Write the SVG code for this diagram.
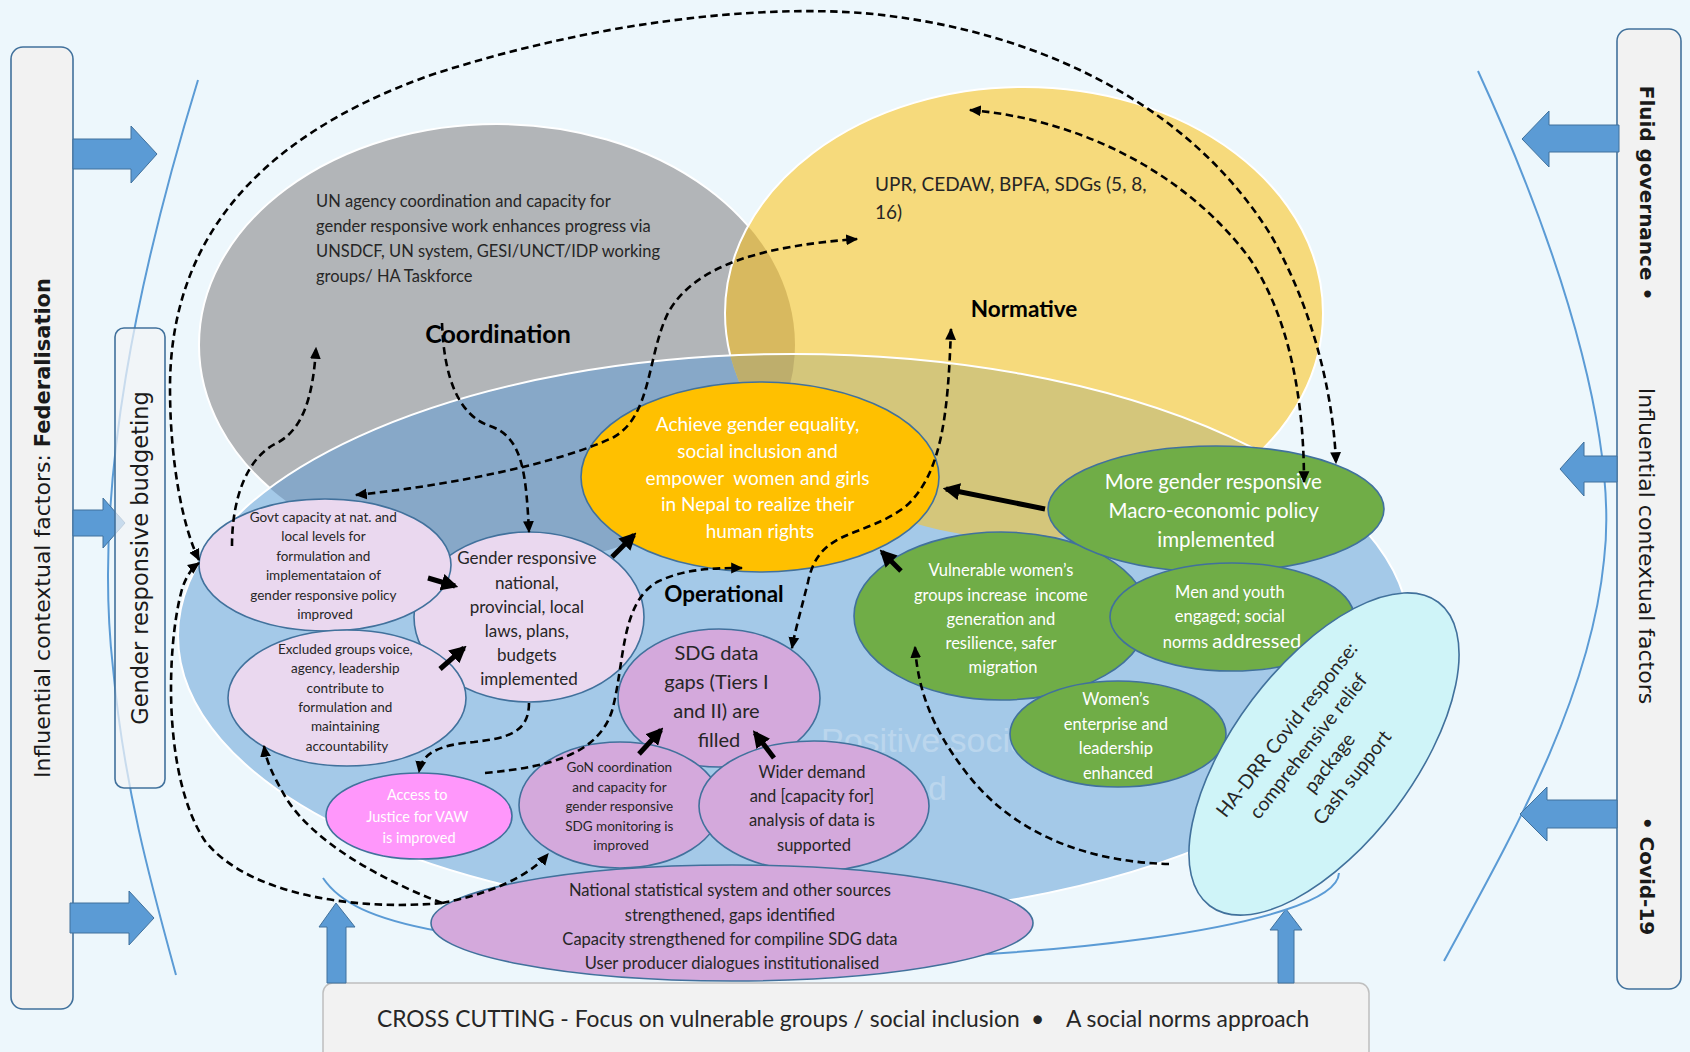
<svg xmlns="http://www.w3.org/2000/svg" width="1690" height="1052" viewBox="0 0 1690 1052">
  <style>
    .lato { font-family: Lato, "Liberation Sans", sans-serif; }
    .dv { font-family: "DejaVu Sans", "Liberation Sans", sans-serif; fill: #1a1a1a; }
    .dark { fill: #262626; }
    .wh { fill: #ffffff; }
    .node { stroke: #41719C; stroke-width: 1.6; }
    .green { fill: #70AD47; }
    .lav { fill: #EAD8EF; }
    .purp { fill: #D4A9DC; }
    .dash { fill: none; stroke: #000; stroke-width: 2.6; stroke-dasharray: 7.5 4.5; }
    .solid { fill: none; stroke: #000; stroke-width: 5; }
    .thin { fill: none; stroke: #5B9BD5; stroke-width: 2; }
    .barrow { fill: #5B9BD5; stroke: #41719C; stroke-width: 1; }
    .panel { fill: #F2F2F2; stroke: #41719C; stroke-width: 1.6; }
  </style>
  <defs>
    <clipPath id="cGray"><ellipse cx="497" cy="345" rx="298" ry="221"/></clipPath>
    <clipPath id="cYel"><ellipse cx="1024" cy="313" rx="299" ry="226"/></clipPath>
    <clipPath id="cBlue"><ellipse cx="794" cy="636" rx="616" ry="282"/></clipPath>
    <marker id="ah" viewBox="0 0 10 10" refX="9" refY="5" markerWidth="12" markerHeight="12" markerUnits="userSpaceOnUse" orient="auto-start-reverse">
      <path d="M0,0.5 L10,5 L0,9.5 z" fill="#000"/>
    </marker>
    <marker id="ab" viewBox="0 0 10 10" refX="8" refY="5" markerWidth="17" markerHeight="17" markerUnits="userSpaceOnUse" orient="auto">
      <path d="M0,0 L10,5 L0,10 z" fill="#000"/>
    </marker>
  </defs>

  <!-- background -->
  <rect width="1690" height="1052" fill="#EDF7FC"/>

  <!-- side brackets -->
  <path class="thin" d="M198,80 C140,269 92,485 113,668 C124,787 151,884 176,975"/>
  <path class="thin" d="M1478,71 C1574,280 1617,453 1604,560 C1590,701 1509,841 1444,961"/>

  <!-- overlapping domain ellipses -->
  <g id="domains">
    <ellipse cx="497" cy="345" rx="298" ry="221" fill="#B2B5B8" stroke="#fff" stroke-width="2"/>
    <ellipse cx="1024" cy="313" rx="299" ry="226" fill="#F6DA7C"/>
    <ellipse cx="1024" cy="313" rx="299" ry="226" fill="#D8B95F" clip-path="url(#cGray)"/>
    <ellipse cx="1024" cy="313" rx="299" ry="226" fill="none" stroke="#fff" stroke-width="2"/>
    <ellipse cx="794" cy="636" rx="616" ry="282" fill="#A4C9E8"/>
    <ellipse cx="497" cy="345" rx="298" ry="221" fill="#87A8C8" clip-path="url(#cBlue)"/>
    <ellipse cx="1024" cy="313" rx="299" ry="226" fill="#D4C67B" clip-path="url(#cBlue)"/>
    <g clip-path="url(#cBlue)">
      <ellipse cx="1024" cy="313" rx="299" ry="226" fill="#BEAE6C" clip-path="url(#cGray)"/>
    </g>
    <ellipse cx="794" cy="636" rx="616" ry="282" fill="none" stroke="#fff" stroke-width="2"/>
  </g>

  <!-- domain labels -->
  <g id="domain-labels" class="lato">
    <text class="dark" font-size="16.5">
      <tspan x="316" y="207">UN agency coordination and capacity for</tspan>
      <tspan x="316" y="232">gender responsive work enhances progress via</tspan>
      <tspan x="316" y="257">UNSDCF, UN system, GESI/UNCT/IDP working</tspan>
      <tspan x="316" y="282">groups/ HA Taskforce</tspan>
    </text>
    <text x="498" y="343" font-size="25" font-weight="bold" text-anchor="middle" fill="#000">Coordination</text>
    <text class="dark" font-size="19">
      <tspan x="875" y="191">UPR, CEDAW, BPFA, SDGs (5, 8,</tspan>
      <tspan x="875" y="219">16)</tspan>
    </text>
    <text x="1024" y="317" font-size="22.5" font-weight="bold" text-anchor="middle" fill="#000">Normative</text>
    <text x="724" y="602" font-size="22.5" font-weight="bold" text-anchor="middle" fill="#000">Operational</text>
  </g>

  <!-- faint background wording -->
  <g font-family="'Liberation Sans', Arial, sans-serif" font-size="34" fill="#ffffff" opacity="0.25">
    <text x="821" y="752">Positive social</text>
    <text x="947" y="800" text-anchor="end">d</text>
  </g>

  <!-- left context panel -->
  <g id="panel-left">
    <rect class="panel" x="11" y="47" width="62" height="962" rx="12"/>
    <text class="dv" transform="translate(42,528) rotate(-90)" text-anchor="middle" dy="0.36em" font-size="22">Influential contextual factors:  <tspan font-weight="bold" font-size="21">Federalisation</tspan></text>
  </g>

  <!-- right context panel -->
  <g id="panel-right">
    <rect class="panel" x="1617" y="29" width="64" height="960" rx="12"/>
    <text class="dv" transform="translate(1647,193) rotate(90)" text-anchor="middle" dy="0.36em" font-size="20" font-weight="bold">Fluid governance •</text>
    <text class="dv" transform="translate(1647,546) rotate(90)" text-anchor="middle" dy="0.36em" font-size="22">Influential contextual factors</text>
    <text class="dv" transform="translate(1647,876) rotate(90)" text-anchor="middle" dy="0.36em" font-size="20" font-weight="bold">• Covid-19</text>
  </g>

  <!-- block arrows from context panels -->
  <g id="context-arrows">
    <polygon class="barrow" points="73,139 131,139 131,126 157,154 131,183 131,169 73,169"/>
    <polygon class="barrow" points="73,510 103,510 103,498 125,523 103,548 103,536 73,536"/>
    <polygon class="barrow" points="70,903 129,903 129,891 154,918 129,945 129,933 70,933"/>
    <polygon class="barrow" points="1619,125 1549,125 1549,111 1522,139 1549,167 1549,152 1619,152"/>
    <polygon class="barrow" points="1617,456 1584,456 1584,442 1560,469 1584,496 1584,482 1617,482"/>
    <polygon class="barrow" points="1617,800 1547,800 1547,787 1520,814 1547,841 1547,828 1617,828"/>
  </g>

  <!-- gender responsive budgeting panel -->
  <g id="panel-grb">
    <rect x="115" y="328" width="50" height="460" rx="9" fill="#F2F4F6" fill-opacity="0.72" stroke="#41719C" stroke-width="1.6"/>
    <text class="dv" transform="translate(140,558) rotate(-90)" text-anchor="middle" dy="0.36em" font-size="22.5">Gender responsive budgeting</text>
  </g>

  <!-- cross cutting bar -->
  <g id="cross-cutting">
    <rect x="323" y="983" width="1046" height="90" rx="10" fill="#F2F2F2" stroke="#BFBFBF" stroke-width="1.5"/>
    <text class="lato dark" font-size="22.8">
      <tspan x="377" y="1027">CROSS CUTTING - Focus on vulnerable groups / social inclusion</tspan>
      <tspan x="1031" y="1027">•</tspan>
      <tspan x="1066" y="1027">A social norms approach</tspan>
    </text>
    <polygon class="barrow" points="327,983 327,927 319,927 336,903 355,927 346,927 346,983"/>
    <polygon class="barrow" points="1278,983 1278,930 1270,930 1286,909 1302,930 1294,930 1294,983"/>
  </g>

  <!-- nodes -->
  <g class="lato">
    <g id="n-gender-laws">
      <ellipse class="node lav" cx="529" cy="617" rx="115" ry="85"/>
      <text class="dark" font-size="17" text-anchor="middle">
        <tspan x="529" y="564">Gender responsive</tspan>
        <tspan x="529" y="589">national,</tspan>
        <tspan x="529" y="613">provincial, local</tspan>
        <tspan x="529" y="637">laws, plans,</tspan>
        <tspan x="529" y="661">budgets</tspan>
        <tspan x="529" y="685">implemented</tspan>
      </text>
    </g>
    <g id="n-govt">
      <ellipse class="node lav" cx="325" cy="565" rx="126" ry="66"/>
      <text class="dark" font-size="13.5" text-anchor="middle">
        <tspan x="325" y="522">Govt capacity at nat. and</tspan>
        <tspan x="325" y="541">local levels for</tspan>
        <tspan x="325" y="561">formulation and</tspan>
        <tspan x="325" y="580">implementataion of</tspan>
        <tspan x="325" y="600">gender responsive policy</tspan>
        <tspan x="325" y="619">improved</tspan>
      </text>
    </g>
    <g id="n-excluded">
      <ellipse class="node lav" cx="347" cy="698" rx="119" ry="68"/>
      <text class="dark" font-size="13.5" text-anchor="middle">
        <tspan x="347" y="654">Excluded groups voice,</tspan>
        <tspan x="347" y="673">agency, leadership</tspan>
        <tspan x="347" y="693">contribute to</tspan>
        <tspan x="347" y="712">formulation and</tspan>
        <tspan x="347" y="731">maintaining</tspan>
        <tspan x="347" y="751">accountability</tspan>
      </text>
    </g>
    <g id="n-access">
      <ellipse class="node" cx="419" cy="816" rx="93" ry="43" fill="#FF97FB"/>
      <text class="wh" font-size="14.5" text-anchor="middle">
        <tspan x="419" y="800">Access to</tspan>
        <tspan x="419" y="822">Justice for VAW</tspan>
        <tspan x="419" y="843">is improved</tspan>
      </text>
    </g>
    <g id="n-goal">
      <ellipse class="node" cx="760" cy="477" rx="179" ry="95" fill="#FFC000"/>
      <text class="wh" font-size="19" text-anchor="middle">
        <tspan x="760" y="431">Achieve gender equality,</tspan>
        <tspan x="760" y="458">social inclusion and</tspan>
        <tspan x="760" y="485">empower&#160; women and girls</tspan>
        <tspan x="760" y="511">in Nepal to realize their</tspan>
        <tspan x="760" y="538">human rights</tspan>
      </text>
    </g>
    <g id="n-sdg-gaps">
      <ellipse class="node purp" cx="719" cy="698" rx="101" ry="69"/>
      <text class="dark" font-size="20" text-anchor="middle">
        <tspan x="719" y="660">SDG data</tspan>
        <tspan x="719" y="689">gaps (Tiers I</tspan>
        <tspan x="719" y="718">and II) are</tspan>
        <tspan x="719" y="747">filled</tspan>
      </text>
    </g>
    <g id="n-gon">
      <ellipse class="node purp" cx="620" cy="805" rx="101" ry="63"/>
      <text class="dark" font-size="13.5" text-anchor="middle">
        <tspan x="621" y="772">GoN coordination</tspan>
        <tspan x="621" y="792">and capacity for</tspan>
        <tspan x="621" y="811">gender responsive</tspan>
        <tspan x="621" y="831">SDG monitoring is</tspan>
        <tspan x="621" y="850">improved</tspan>
      </text>
    </g>
    <g id="n-wider">
      <ellipse class="node purp" cx="814" cy="806" rx="115" ry="65"/>
      <text class="dark" font-size="16.5" text-anchor="middle">
        <tspan x="814" y="778">Wider demand</tspan>
        <tspan x="814" y="802">and [capacity for]</tspan>
        <tspan x="814" y="826">analysis of data is</tspan>
        <tspan x="814" y="851">supported</tspan>
      </text>
    </g>
    <g id="n-vulnerable">
      <ellipse class="node green" cx="1001" cy="616" rx="147" ry="84"/>
      <text class="wh" font-size="16.5" text-anchor="middle">
        <tspan x="1003" y="576">Vulnerable women’s</tspan>
        <tspan x="1003" y="601">groups increase&#160; income</tspan>
        <tspan x="1003" y="625">generation and</tspan>
        <tspan x="1003" y="649">resilience, safer</tspan>
        <tspan x="1003" y="673">migration</tspan>
      </text>
    </g>
    <g id="n-macro">
      <ellipse class="node green" cx="1216" cy="509" rx="168" ry="63"/>
      <text class="wh" font-size="20.5" text-anchor="middle">
        <tspan x="1216" y="489">More gender responsive</tspan>
        <tspan x="1216" y="518">Macro-economic policy</tspan>
        <tspan x="1216" y="547">implemented</tspan>
      </text>
    </g>
    <g id="n-men">
      <ellipse class="node green" cx="1232" cy="617" rx="122" ry="54"/>
      <text class="wh" font-size="16.5" text-anchor="middle">
        <tspan x="1232" y="598">Men and youth</tspan>
        <tspan x="1232" y="622">engaged; social</tspan>
        <tspan x="1232" y="648">norms <tspan font-size="20">addressed</tspan></tspan>
      </text>
    </g>
    <g id="n-women-enterprise">
      <ellipse class="node green" cx="1118" cy="734" rx="108" ry="53"/>
      <text class="wh" font-size="16.5" text-anchor="middle">
        <tspan x="1118" y="705">Women’s</tspan>
        <tspan x="1118" y="730">enterprise and</tspan>
        <tspan x="1118" y="754">leadership</tspan>
        <tspan x="1118" y="779">enhanced</tspan>
      </text>
    </g>
    <g id="n-hadrr">
      <ellipse class="node" cx="1324" cy="754" rx="190" ry="90" fill="#CFF4F8" transform="rotate(-53 1324 754)"/>
      <text class="dark" font-size="19.5" text-anchor="middle" transform="translate(1322,754) rotate(-52)">
        <tspan x="0" y="-36">HA-DRR Covid response:</tspan>
        <tspan x="0" y="-9">comprehensive relief</tspan>
        <tspan x="0" y="18">package</tspan>
        <tspan x="0" y="45">Cash support</tspan>
      </text>
    </g>
    <!-- lower bracket passes behind the statistics node -->
    <path class="thin" d="M323,878 C356,927 453,943 754,959 C1024,965 1337,927 1339,873"/>
    <g id="n-nss">
      <ellipse class="node purp" cx="732" cy="923" rx="301" ry="58"/>
      <text class="dark" font-size="16.5" text-anchor="middle">
        <tspan x="732" y="896">National statistical system and other sources</tspan>
        <tspan x="732" y="921">strengthened, gaps identified</tspan>
        <tspan x="732" y="945">Capacity strengthened for compiline SDG data</tspan>
        <tspan x="732" y="969">User producer dialogues institutionalised</tspan>
      </text>
    </g>
  </g>

  <!-- connectors -->
  <g id="connectors">
    <!-- dashed feedback links -->
    <path class="dash" marker-start="url(#ah)" marker-end="url(#ah)" d="M199,560 C183,528 170,463 170,388 C170,248 248,140 431,75 C593,22 754,5 862,13 C1024,27 1186,97 1272,237 C1320,323 1334,410 1336,463"/>
    <path class="dash" marker-start="url(#ah)" marker-end="url(#ah)" d="M970,110 C1078,119 1186,172 1250,259 C1293,323 1304,410 1304,482"/>
    <path class="dash" marker-end="url(#ah)" d="M442,323 C444,377 458,415 490,426 C523,437 526,474 529,532"/>
    <path class="dash" marker-end="url(#ah)" d="M232,546 C232,496 248,458 275,444 C302,431 313,399 316,348"/>
    <path class="dash" marker-start="url(#ah)" marker-end="url(#ah)" d="M356,495 C453,485 560,463 614,437 C652,415 647,356 668,313 C695,264 765,246 857,239"/>
    <path class="dash" marker-end="url(#ah)" d="M529,703 C529,733 507,738 474,742 C437,745 422,754 419,772"/>
    <path class="dash" marker-end="url(#ah)" d="M485,773 C550,767 598,754 612,711 C625,663 620,604 657,582 C684,569 711,568 742,568"/>
    <path class="dash" marker-start="url(#ah)" marker-end="url(#ah)" d="M951,329 C948,410 943,474 905,507 C862,539 819,528 808,582 C800,614 795,631 792,648"/>
    <path class="dash" marker-end="url(#ah)" d="M1169,864 C1089,862 1013,835 965,771 C932,728 918,690 915,647"/>
    <path class="dash" marker-end="url(#ah)" d="M442,903 C356,911 248,895 205,841 C162,776 167,647 181,593 C185,577 192,568 199,563"/>
    <path class="dash" marker-end="url(#ah)" d="M442,903 C377,878 313,841 286,798 C272,774 266,760 264,746"/>
    <path class="dash" marker-end="url(#ah)" d="M442,903 C485,895 528,878 548,854"/>
    <!-- solid contribution arrows -->
    <path class="solid" marker-end="url(#ab)" d="M428,578 L455,586"/>
    <path class="solid" marker-end="url(#ab)" d="M440,669 L464,648"/>
    <path class="solid" marker-end="url(#ab)" d="M612,557 L634,535"/>
    <path class="solid" marker-end="url(#ab)" d="M1045,509 L946,489"/>
    <path class="solid" marker-end="url(#ab)" d="M901,571 L882,552"/>
    <path class="solid" marker-end="url(#ab)" d="M639,754 L661,730"/>
    <path class="solid" marker-end="url(#ab)" d="M774,758 L755,733"/>
  </g>
</svg>
